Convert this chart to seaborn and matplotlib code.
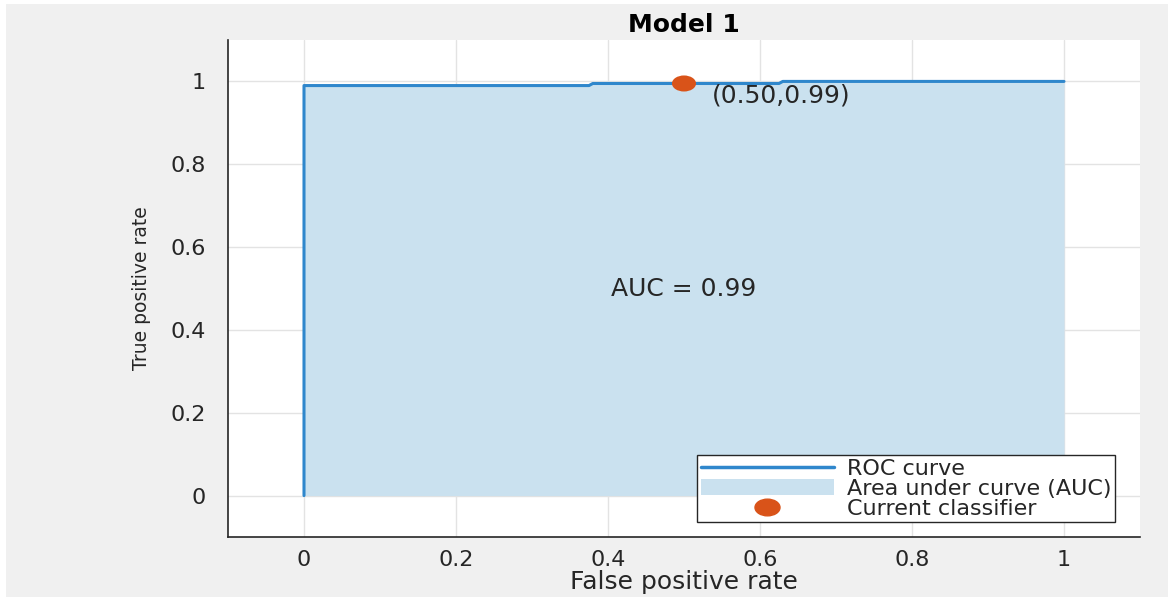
import numpy as np
import pandas as pd
import matplotlib
matplotlib.use("Agg")
import matplotlib.pyplot as plt
import seaborn as sns
from matplotlib.patches import Rectangle, Patch
from matplotlib.lines import Line2D
from matplotlib.path import Path
from matplotlib.transforms import Affine2D

# ROC curve points
fpr = [0.0, 0.0, 0.375, 0.38, 0.625, 0.63, 1.0]
tpr = [0.0, 0.99, 0.99, 0.995, 0.995, 1.0, 1.0]
current_fpr = [0.50]
current_tpr = [0.995]
current_label = "(0.50,0.99)"
auc_text = "AUC = 0.99"
ticks = [0, 0.2, 0.4, 0.6, 0.8, 1]
tick_labels = ["0", "0.2", "0.4", "0.6", "0.8", "1"]

roc = pd.DataFrame({"fpr": fpr, "tpr": tpr})
cur = pd.DataFrame({"fpr": current_fpr, "tpr": current_tpr})

sns.set_style("white")
plt.rcParams["font.family"] = ["DejaVu Sans"]

line_col = "#2f87cc"
fill_col = "#cae1ef"
dot_col = "#d95319"
text_col = "#262626"

# the reference is a bit stretched sideways, so the dot is an ellipse
oval = Path.unit_circle().transformed(Affine2D().scale(1.5, 1.0))

fig = plt.figure(figsize=(11.68, 5.97), dpi=100, facecolor="white")
# gray figure panel (MATLAB style) with a thin white margin at left/top
fig.patches.append(Rectangle((6 / 1168, 0), 1, 1 - 4 / 597, transform=fig.transFigure,
                             facecolor="#f0f0f0", edgecolor="none", zorder=-10))
ax = fig.add_axes([228 / 1168, 60 / 597, 912 / 1168, 497 / 597])
ax.set_facecolor("white")

ax.fill_between(roc["fpr"], roc["tpr"], color=fill_col, linewidth=0, zorder=1)
sns.lineplot(data=roc, x="fpr", y="tpr", sort=False, estimator=None, color=line_col,
             linewidth=2.2, ax=ax, zorder=3)
sns.scatterplot(data=cur, x="fpr", y="tpr", color=dot_col, s=300, marker=oval,
                edgecolor="none", ax=ax, zorder=4)

ax.annotate(current_label, xy=(current_fpr[0], current_tpr[0]), xytext=(20, -9),
            textcoords="offset points", ha="left", va="center", fontsize=18, color=text_col)
ax.text(0.5, 0.5, auc_text, ha="center", va="center", fontsize=18, color=text_col)

ax.set_xlim(-0.1, 1.1)
ax.set_ylim(-0.1, 1.1)
ax.set_xticks(ticks)
ax.set_xticklabels(tick_labels)
ax.set_yticks(ticks)
ax.set_yticklabels(tick_labels)
ax.grid(True, color="#e3e3e3", linewidth=1)
ax.set_axisbelow(True)
ax.tick_params(direction="in", length=5, width=1, colors=text_col, labelsize=16)
ax.tick_params(axis="x", pad=9)
ax.tick_params(axis="y", pad=16)
for s in ["top", "right"]:
    ax.spines[s].set_visible(False)
for s in ["left", "bottom"]:
    ax.spines[s].set_color(text_col)
    ax.spines[s].set_linewidth(1.2)

ax.set_xlabel("False positive rate", fontsize=18, color=text_col, labelpad=0)
ax.set_ylabel("True positive rate", fontsize=13.5, color=text_col, labelpad=14)
ax.set_title("Model 1", fontsize=18, fontweight="bold", color="black", pad=6)

handles = [Line2D([], [], color=line_col, linewidth=2.5),
           Patch(facecolor=fill_col, edgecolor="none"),
           Line2D([], [], color=dot_col, marker=oval, linestyle="none", markersize=18)]
labels = ["ROC curve", "Area under curve (AUC)", "Current classifier"]
leg = ax.legend(handles, labels, loc="lower right", bbox_to_anchor=(0.9726, 0.030),
                borderaxespad=0, fontsize=16, frameon=True, fancybox=False, framealpha=1,
                handlelength=6.0, handleheight=0.7, labelspacing=0.0, borderpad=0.15,
                handletextpad=0.6)
leg.get_frame().set_edgecolor("#262626")
leg.get_frame().set_linewidth(1.0)
for t in leg.get_texts():
    t.set_color(text_col)

fig.savefig("out.png", dpi=100, facecolor=fig.get_facecolor())
